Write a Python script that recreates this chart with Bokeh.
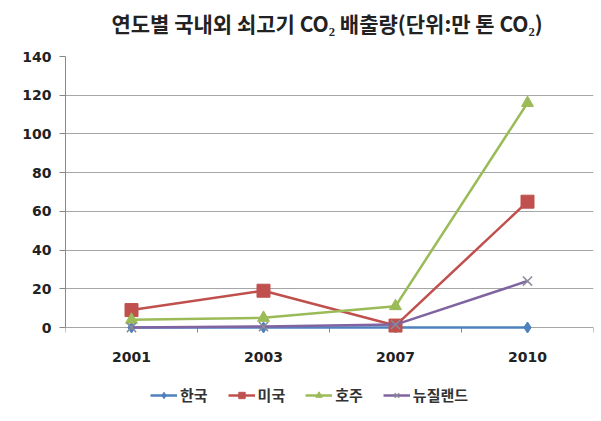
from bokeh.plotting import figure
from bokeh.models import FixedTicker, Legend, LegendItem, Range1d, Title
from bokeh.core.properties import value
from bokeh.embed import file_html
from bokeh.resources import INLINE

years = ["2001", "2003", "2007", "2010"]
korea = [0, 0, 0, 0]
usa = [9, 19, 1, 65]
australia = [4, 5, 11, 116]
nz = [0, 0.5, 1.5, 24]
y_ticks = [0, 20, 40, 60, 80, 100, 120, 140]
y_max = 140
title_text = "연도별 국내외 쇠고기 CO₂ 배출량(단위:만  톤 CO₂)"

FONT = "Noto Sans CJK KR"
NUM_FONT = "DejaVu Sans"

# layout (screen px)
W, H = 598, 418
TOP, ZERO, BOTTOM = 56, 327, 410
units_per_px = y_max / (ZERO - TOP)
y_min = -(BOTTOM - ZERO) * units_per_px

xs = [i + 0.5 for i in range(len(years))]
bounds = list(range(len(years) + 1))

p = figure(width=W, height=H, output_backend="svg", toolbar_location=None,
           x_range=Range1d(0, len(years)), y_range=Range1d(y_min, y_max),
           min_border_left=65, min_border_right=W - 593, min_border_bottom=H - BOTTOM,
           min_border_top=TOP)
p.title = None

# spacer between title and frame, then the title itself
p.add_layout(Title(text=" ", text_font_size="15px", standoff=0), "above")
p.add_layout(Title(text=title_text, align="center", text_font=FONT,
                   text_font_size="21px", text_font_style="bold",
                   text_color="#222222", standoff=0), "above")

p.outline_line_color = None
p.background_fill_color = "white"
p.border_fill_color = "white"

# x axis: drawn on the zero line
p.xaxis.visible = False
p.xgrid.grid_line_color = None
p.segment(x0=bounds, y0=[0] * len(bounds), x1=bounds,
          y1=[-5 * units_per_px] * len(bounds), line_color="#888888", line_width=1)
p.text(x=xs, y=[0] * len(xs), text=years, y_offset=29, text_align="center",
       text_baseline="middle", text_font=value(NUM_FONT), text_font_style="bold",
       text_font_size="14px", text_color="#222222")

# y axis
p.yaxis.ticker = FixedTicker(ticks=y_ticks)
p.yaxis.bounds = (0, y_max)
p.yaxis.minor_tick_line_color = None
p.yaxis.major_tick_out = 6
p.yaxis.major_tick_in = 0
p.yaxis.major_tick_line_color = "#888888"
p.yaxis.axis_line_color = "#888888"
p.yaxis.major_label_text_font = NUM_FONT
p.yaxis.major_label_text_font_style = "bold"
p.yaxis.major_label_text_font_size = "14px"
p.yaxis.major_label_text_color = "#222222"
p.yaxis.major_label_standoff = 8
p.ygrid.grid_line_color = "#a6a6a6"
p.ygrid.grid_line_width = 1

series = [
    ("한국", korea, "#4F81BD", "diamond", 11, "#4F81BD"),
    ("미국", usa, "#C0504D", "square", 13, "#C0504D"),
    ("호주", australia, "#9BBB59", "triangle", 12, "#9BBB59"),
    ("뉴질랜드", nz, "#8064A2", "x", 13, "#8a8a9a"),
]
items = []
for name, vals, color, marker, size, mcolor in series:
    ln = p.line(xs, vals, line_color=color, line_width=2.5)
    sc = p.scatter(xs, vals, marker=marker, size=size, fill_color=mcolor,
                   line_color=mcolor, line_width=1.5 if marker == "x" else 1)
    items.append(LegendItem(label=name, renderers=[ln, sc]))

legend = Legend(items=items, orientation="horizontal", location=(150 - 65, 5),
                label_text_font=FONT, label_text_font_size="15px",
                label_text_font_style="bold", label_text_color="#333333",
                border_line_alpha=0, background_fill_alpha=0,
                glyph_width=27, glyph_height=16, spacing=20, label_standoff=3,
                padding=0, margin=0)
p.add_layout(legend, "center")

open("out.html", "w").write(file_html(p, INLINE))
